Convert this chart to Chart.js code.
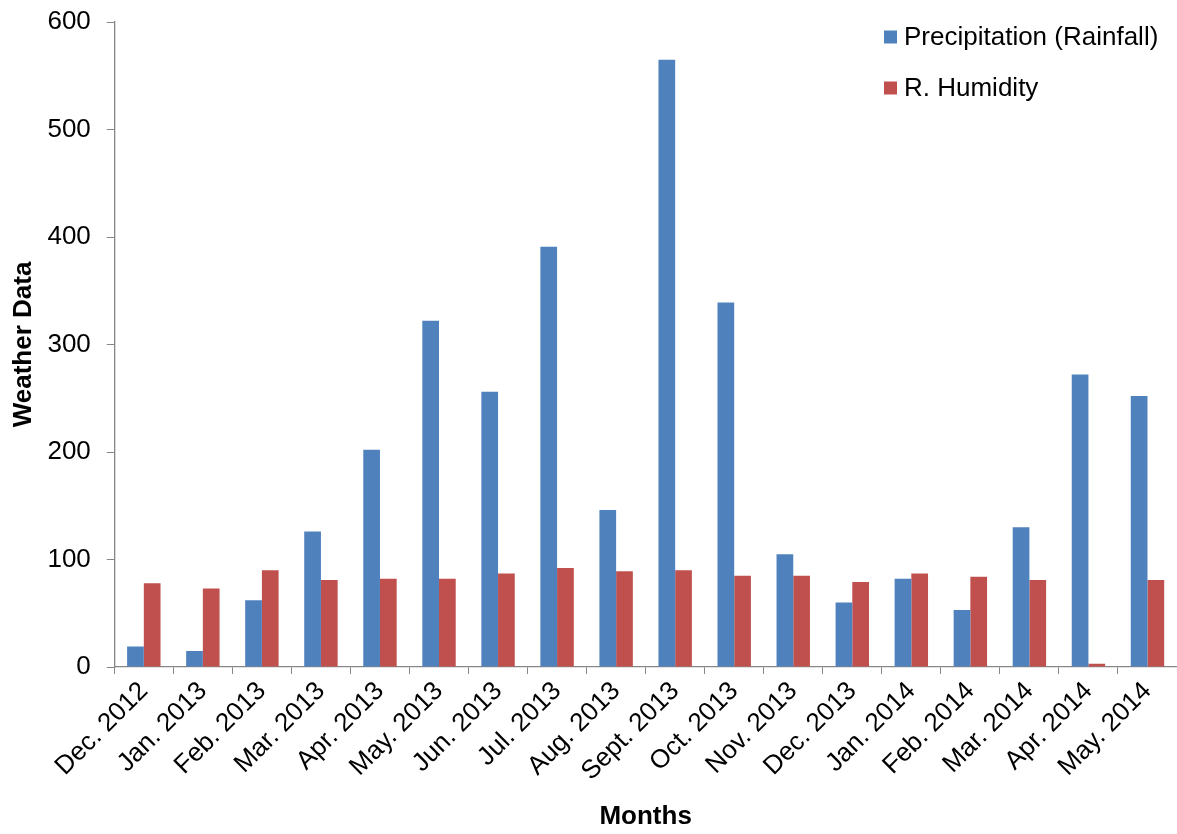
<!DOCTYPE html>
<html>
<head>
<meta charset="utf-8">
<script src="https://cdn.jsdelivr.net/npm/chart.js@4.4.1/dist/chart.umd.min.js"></script>
<style>
  html, body { margin: 0; padding: 0; background: #ffffff; }
  #wrap { width: 1177px; height: 834px; position: relative; }
</style>
</head>
<body>
<div id="wrap"><canvas id="c" width="1177" height="834"></canvas></div>
<script>
const categories = ["Dec. 2012","Jan. 2013","Feb. 2013","Mar. 2013","Apr. 2013","May. 2013","Jun. 2013","Jul. 2013","Aug. 2013","Sept. 2013","Oct. 2013","Nov. 2013","Dec. 2013","Jan. 2014","Feb. 2014","Mar. 2014","Apr. 2014","May. 2014"];
const precipitation = [19, 15, 62, 126, 202, 322, 256, 391, 146, 565, 339, 105, 60, 82, 53, 130, 272, 252];
const humidity = [78, 73, 90, 81, 82, 82, 87, 92, 89, 90, 85, 85, 79, 87, 84, 81, 3, 81];
const seriesNames = ["Precipitation (Rainfall)", "R. Humidity"];
const yTicks = [0, 100, 200, 300, 400, 500, 600];

const FONT = "'Liberation Sans', Arial, sans-serif";
const AXIS = '#868686';

const legendPlugin = {
  id: 'sideLegend',
  afterDraw(chart) {
    const ctx = chart.ctx;
    ctx.save();
    ctx.font = '26px ' + FONT;
    ctx.textBaseline = 'middle';
    ctx.textAlign = 'left';
    chart.data.datasets.forEach((ds, i) => {
      const cy = 37 + i * 51;
      ctx.fillStyle = ds.backgroundColor;
      ctx.fillRect(884, cy - 6.5, 13, 13);
      ctx.fillStyle = '#000000';
      ctx.fillText(ds.label, 904, cy + 1);
    });
    ctx.restore();
  }
};

new Chart(document.getElementById('c'), {
  type: 'bar',
  data: {
    labels: categories,
    datasets: [
      { label: seriesNames[0], data: precipitation, backgroundColor: '#4F81BD',
        categoryPercentage: 0.566, barPercentage: 1.0 },
      { label: seriesNames[1], data: humidity, backgroundColor: '#C0504D',
        categoryPercentage: 0.566, barPercentage: 1.0 }
    ]
  },
  options: {
    responsive: false,
    animation: false,
    layout: { padding: { top: 22, right: 0, left: 0, bottom: 0 } },
    plugins: {
      legend: { display: false },
      tooltip: { enabled: false },
      title: { display: false }
    },
    scales: {
      x: {
        offset: true,
        grid: { display: true, drawOnChartArea: false, drawTicks: true, tickLength: 7, color: AXIS, offset: true },
        border: { display: true, color: AXIS, width: 1.3 },
        ticks: {
          color: '#000000',
          font: { family: FONT, size: 26 },
          maxRotation: 45, minRotation: 45,
          autoSkip: false,
          padding: 2
        },
        title: {
          display: true, text: 'Months', color: '#000000',
          font: { family: FONT, size: 26, weight: 'bold' },
          padding: { top: 0, bottom: 2 }
        },
        afterFit(scale) { scale.height = 167; scale.paddingLeft = 0; scale.paddingRight = 0; }
      },
      y: {
        min: 0, max: 600,
        afterBuildTicks(scale) { scale.ticks = yTicks.map(v => ({ value: v })); },
        grid: { display: true, drawOnChartArea: false, drawTicks: true, tickLength: 7.5, color: AXIS },
        border: { display: true, color: AXIS, width: 1.3 },
        ticks: {
          color: '#000000',
          font: { family: FONT, size: 26 },
          padding: 16
        },
        title: {
          display: true, text: 'Weather Data', color: '#000000',
          font: { family: FONT, size: 26, weight: 'bold' },
          padding: { top: 8, bottom: 0 }
        },
        afterFit(scale) { scale.width = 114.3; scale.paddingTop = 0; scale.paddingBottom = 0; }
      }
    }
  },
  plugins: [legendPlugin]
});
</script>
</body>
</html>
